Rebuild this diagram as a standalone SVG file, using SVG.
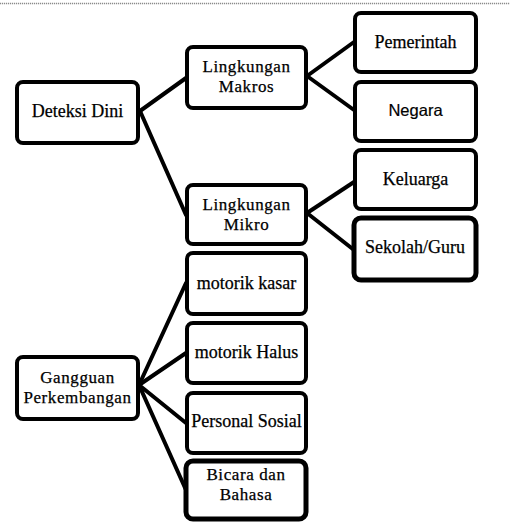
<svg xmlns="http://www.w3.org/2000/svg" width="510" height="522" viewBox="0 0 510 522">
<style>
.box{fill:#fff;stroke:#000;stroke-width:4}
.thick{stroke-width:5}
.t{font-family:"Liberation Serif","Times New Roman",serif;font-size:18px;fill:#000;stroke:#000;stroke-width:0.25;text-anchor:middle}
.t2{font-size:17px;letter-spacing:0.6px}
.s{font-family:"Liberation Sans",Arial,sans-serif;font-size:16.5px;fill:#000;stroke:#000;stroke-width:0.2;text-anchor:middle}
.c{stroke:#000;stroke-width:4;fill:none;stroke-linecap:round}
</style>
<rect width="510" height="522" fill="#fff"/>
<line x1="0" y1="3.5" x2="510" y2="3.5" stroke="#8a8a8a" stroke-width="1.5" stroke-dasharray="1.2 0.8"/>
<g id="connectors">
<line class="c" x1="140" y1="111" x2="186" y2="78"/>
<line class="c" x1="140" y1="111" x2="186" y2="215"/>
<line class="c" x1="307" y1="76" x2="354" y2="42"/>
<line class="c" x1="307" y1="76" x2="354" y2="110"/>
<line class="c" x1="307" y1="213" x2="354" y2="182"/>
<line class="c" x1="307" y1="213" x2="354" y2="250"/>
<line class="c" x1="139" y1="385" x2="186" y2="283"/>
<line class="c" x1="139" y1="385" x2="186" y2="353"/>
<line class="c" x1="139" y1="385" x2="186" y2="423"/>
<line class="c" x1="139" y1="385" x2="186" y2="490"/>
</g>
<g id="deteksi-dini"><rect class="box" x="17" y="82" width="121" height="61" rx="6"/><text class="t" x="77.5" y="117">Deteksi Dini</text></g>
<g id="lingkungan-makros"><rect class="box" x="187" y="47" width="119" height="61" rx="6"/><text class="t t2" x="246.5" y="72">Lingkungan</text><text class="t t2" x="246.5" y="91.5">Makros</text></g>
<g id="pemerintah"><rect class="box" x="355" y="13" width="121" height="59" rx="6"/><text class="t" x="415.5" y="48">Pemerintah</text></g>
<g id="negara"><rect class="box" x="355" y="82" width="121" height="59" rx="6"/><text class="s" x="415.5" y="116">Negara</text></g>
<g id="keluarga"><rect class="box" x="355" y="150" width="121" height="59" rx="6"/><text class="t" x="415.5" y="185">Keluarga</text></g>
<g id="sekolah-guru"><rect class="box thick" x="354" y="218" width="122" height="62" rx="7"/><text class="t" x="415" y="253">Sekolah/Guru</text></g>
<g id="lingkungan-mikro"><rect class="box" x="187" y="185" width="119" height="59" rx="6"/><text class="t t2" x="246.5" y="210">Lingkungan</text><text class="t t2" x="246.5" y="229.5">Mikro</text></g>
<g id="motorik-kasar"><rect class="box" x="187" y="253" width="119" height="61" rx="6"/><text class="t" x="246.5" y="289">motorik kasar</text></g>
<g id="motorik-halus"><rect class="box" x="187" y="323" width="119" height="60" rx="6"/><text class="t" x="246.5" y="358">motorik Halus</text></g>
<g id="personal-sosial"><rect class="box" x="187" y="393" width="119" height="60" rx="6"/><text class="t" x="246.5" y="427">Personal Sosial</text></g>
<g id="bicara-bahasa"><rect class="box thick" x="186" y="461" width="120" height="58" rx="7"/><text class="t t2" x="246" y="480">Bicara dan</text><text class="t t2" x="246" y="499.5">Bahasa</text></g>
<g id="gangguan-perkembangan"><rect class="box" x="17" y="357" width="121" height="62" rx="6"/><text class="t t2" x="77.5" y="383">Gangguan</text><text class="t t2" x="77.5" y="402.5">Perkembangan</text></g>
</svg>
